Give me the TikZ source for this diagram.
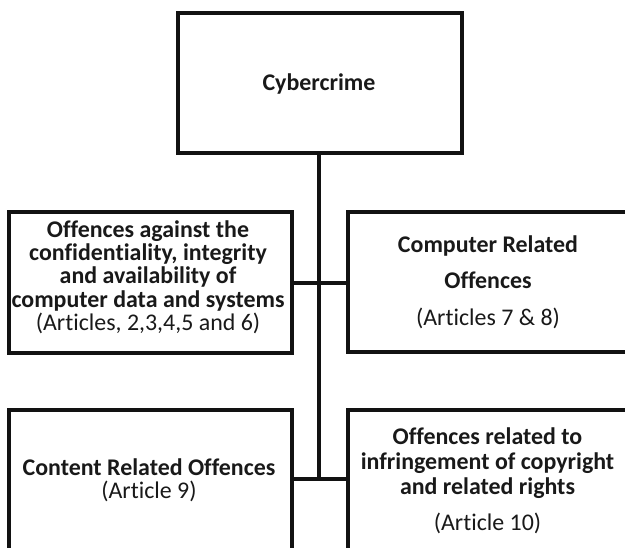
\documentclass[tikz,border=0pt]{standalone}
\usepackage{fontspec}
\setmainfont{Carlito}[Ligatures=NoCommon]
\newcommand\lblfont{\fontsize{24}{23.4}\selectfont\lineskiplimit=-30pt\relax}
\begin{document}
\begin{tikzpicture}[x=1bp,y=-1bp,
  box/.style={draw=black!93, line width=4bp, rectangle, outer sep=0pt, inner sep=0pt, fill=white},
  lbl/.style={align=center, inner sep=0pt, font=\lblfont, text=black!90},
  link/.style={draw=black!93, line width=4bp}]
\useasboundingbox (0,0) rectangle (625,548);
\clip (0,0) rectangle (625,548);

% boxes
\node[box, minimum width=284bp, minimum height=140bp] (top) at (320,83) {};
\node[box, minimum width=283bp, minimum height=141bp] (b1) at (150.5,282.5) {};
\node[box, minimum width=282bp, minimum height=140bp] (b2) at (489,282) {};
\node[box, minimum width=283bp, minimum height=160bp] (b3) at (150.5,490) {};
\node[box, minimum width=282bp, minimum height=160bp] (b4) at (489,490) {};

% trunk junctions
\coordinate (j1) at (319,283);
\coordinate (j2) at (319,479);

% connectors
\draw[link] (top.south -| j1) -- (j2);
\draw[link] (b1.east |- j1) -- (j1) -- (b2.west |- j1);
\draw[link] (b3.east |- j2) -- (j2) -- (b4.west |- j2);

% labels
\node[lbl] (t0) at (319,84) {\bfseries Cybercrime};
\node[lbl] (t1) at (148,277) {\bfseries Offences against the\\ \bfseries confidentiality, integrity\\ \bfseries and availability of\\ \bfseries computer data and systems\\ (Articles, 2,3,4,5 and 6)};
\node[lbl] (t2) at (488,282) {\bfseries Computer Related\\[13.5bp] \bfseries Offences\\[13bp] (Articles 7 \& 8)};
\node[lbl] (t3) at (149,480) {\bfseries Content Related Offences\\ (Article 9)};
\node[lbl] (t4) at (487.5,481) {\bfseries Offences related to\\[1.5bp] \bfseries infringement of copyright\\[1.5bp] \bfseries and related rights\\[13bp] (Article 10)};
\end{tikzpicture}
\end{document}
